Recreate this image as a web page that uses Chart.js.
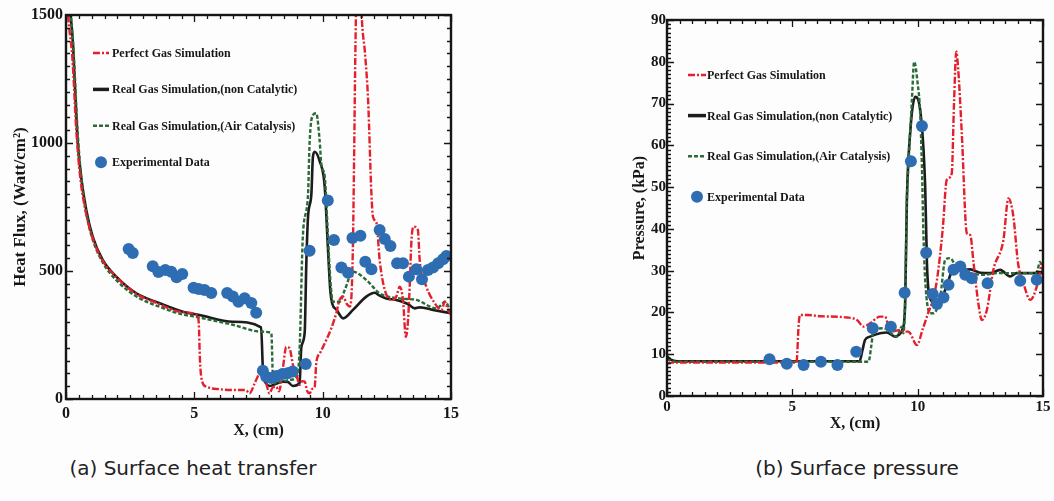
<!DOCTYPE html>
<html>
<head>
<meta charset="utf-8">
<script src="https://cdn.jsdelivr.net/npm/chart.js@4.4.1/dist/chart.umd.min.js"></script>
<style>
  html, body { margin: 0; padding: 0; background: #fdfdfe; }
  body { width: 1054px; height: 501px; position: relative; overflow: hidden; }
  canvas { position: absolute; top: 0; }
  #heatChart { left: 0; }
  #pressChart { left: 620px; }
  .caption {
    position: absolute; top: 458px; line-height: 20px;
    font-family: "DejaVu Sans", sans-serif; font-size: 20px; color: #222;
    text-align: center; white-space: nowrap;
  }
</style>
</head>
<body>
<canvas id="heatChart" width="470" height="445"></canvas>
<canvas id="pressChart" width="434" height="445"></canvas>
<div class="caption" style="left:43px;width:300px;">(a) Surface heat transfer</div>
<div class="caption" style="left:707px;width:300px;">(b) Surface pressure</div>

<script>
// ---- 1. DATA: surface heat flux (W/cm^2) vs X (cm)
const heatPerfectX = [0.03, 0.1, 0.25, 0.4, 0.55, 0.75, 1.0, 1.4, 1.95, 2.7, 3.6, 4.5, 5.1, 5.17, 5.22, 5.3, 5.47, 6.0, 6.5, 7.0,
  7.15, 7.35, 7.48, 7.6, 7.8, 7.93, 8.05, 8.19, 8.3, 8.45, 8.58, 8.71, 8.85, 8.97, 9.1, 9.2, 9.3, 9.4, 9.49, 9.6,
  9.69, 9.75, 9.9, 10.14, 10.35, 10.53, 10.66, 10.79, 10.95, 11.05, 11.12, 11.18, 11.22, 11.28, 11.4, 11.52, 11.65, 11.77, 11.9, 11.96,
  12.1, 12.22, 12.42, 12.68, 12.87, 13.0, 13.13, 13.24, 13.32, 13.39, 13.46, 13.55, 13.71, 13.78, 14.04, 14.37, 14.63, 14.76, 14.88, 15.0];
const heatPerfectY = [1600, 1480, 1330, 1050, 870, 740, 640, 545, 478, 413, 372, 340, 330, 300, 150, 70, 48, 38, 35, 35,
  22, 61, 90, 110, 60, 22, 45, 48, 30, 120, 204, 198, 130, 100, 55, 70, 68, 30, 22, 40,
  48, 139, 180, 230, 280, 335, 387, 400, 370, 361, 400, 608, 900, 1400, 1900, 1500, 1350, 1168, 800, 712,
  686, 543, 426, 387, 400, 439, 387, 243, 300, 439, 621, 673, 660, 543, 439, 374, 348, 380, 348, 330];

const heatNonCatX = [0.12, 0.27, 0.33, 0.46, 0.59, 0.79, 1.04, 1.43, 1.96, 2.74, 3.65, 4.55, 5.2, 6.5, 7.6, 7.68,
  7.8, 7.93, 8.2, 8.45, 8.65, 8.84, 9.1, 9.17, 9.3, 9.36, 9.43, 9.56, 9.62, 9.69, 9.88, 10.08,
  10.2, 10.3, 10.38, 10.53, 10.8, 11.18, 11.7, 12.03, 12.2, 12.48, 12.87, 13.3, 13.59, 13.78, 14.3, 15.0];
const heatNonCatY = [1560, 1389, 1259, 999, 868, 738, 634, 543, 478, 413, 374, 341, 328, 302, 280, 100,
  61, 51, 60, 68, 66, 51, 62, 204, 260, 517, 712, 800, 946, 966, 930, 830,
  600, 420, 370, 350, 315, 348, 400, 415, 405, 393, 387, 372, 354, 358, 348, 335];

const heatAirCatX = [0.14, 0.3, 0.45, 0.6, 0.8, 1.05, 1.45, 2.0, 2.75, 3.65, 4.55, 5.0, 6.5, 7.6, 8.0, 8.06,
  8.12, 8.5, 8.75, 9.0, 9.1, 9.23, 9.43, 9.49, 9.62, 9.75, 9.88, 9.95, 10.08, 10.14, 10.2, 10.3,
  10.4, 10.66, 10.86, 11.18, 11.7, 12.22, 13.0, 13.65, 14.43, 14.6, 14.76, 15.0];
const heatAirCatY = [1560, 1350, 1050, 860, 720, 620, 530, 460, 400, 360, 330, 322, 290, 263, 258, 87,
  62, 70, 75, 90, 190, 640, 800, 1000, 1109, 1116, 1012, 915, 870, 777, 647, 465,
  380, 380, 426, 497, 465, 413, 393, 387, 354, 365, 380, 341];

const heatExpX = [2.44, 2.6, 3.38, 3.6, 3.87, 4.1, 4.31, 4.53, 4.97, 5.17, 5.4, 5.66, 6.28, 6.5, 6.72, 6.96,
  7.22, 7.41, 7.67, 7.8, 8.0, 8.2, 8.43, 8.63, 8.83, 9.34, 9.49, 10.2, 10.44, 10.73, 10.99, 11.16,
  11.47, 11.66, 11.9, 12.22, 12.42, 12.64, 12.9, 13.13, 13.36, 13.65, 13.87, 14.1, 14.3, 14.5, 14.69, 14.82];
const heatExpY = [586, 570, 519, 496, 504, 497, 476, 488, 435, 430, 426, 414, 414, 400, 380, 394,
  375, 337, 110, 87, 82, 90, 98, 101, 107, 137, 579, 775, 621, 514, 493, 629,
  638, 536, 507, 660, 625, 598, 530, 530, 478, 507, 468, 504, 514, 530, 546, 559];

// ---- 2. DATA: surface pressure (kPa) vs X (cm)
const pressPerfectX = [0, 0.2, 5.15, 5.18, 5.25, 5.31, 5.58, 6.1, 7.18, 7.58, 7.84, 8.1, 8.5, 8.7, 8.84, 9.0,
  9.3, 9.43, 9.63, 9.7, 9.97, 10.2, 10.37, 10.6, 10.77, 11.0, 11.16, 11.36, 11.45, 11.54, 11.62, 11.76,
  11.96, 12.1, 12.23, 12.42, 12.56, 12.76, 13.02, 13.42, 13.62, 13.82, 14.0, 14.22, 14.49, 14.75, 14.95];
const pressPerfectY = [7.8, 8.0, 8.0, 8.6, 17, 19.4, 19.4, 19.1, 18.8, 18.2, 16.6, 17.4, 19, 19, 16.6, 15.5,
  15.8, 15.4, 15.4, 15, 12.2, 16, 19, 23, 27.8, 40, 51.7, 53.3, 70, 82.4, 78, 62.9,
  39, 38.5, 31.8, 22.2, 18.2, 20.6, 30.2, 37.3, 47.3, 42.9, 32, 27, 23, 26.2, 31.8];

const pressNonCatX = [0, 0.15, 0.4, 7.68, 7.8, 7.9, 8.1, 8.5, 8.77, 9.1, 9.24, 9.4, 9.5, 9.57, 9.7, 9.9,
  10.1, 10.3, 10.37, 10.43, 10.57, 10.77, 11.1, 11.43, 11.83, 12.1, 12.5, 12.9, 13.29, 13.69, 13.95, 15];
const pressNonCatY = [9.5, 8.7, 8.3, 8.3, 11, 13.4, 14.2, 15, 15.2, 14.2, 14.6, 16, 22, 47, 62.9, 71.6,
  68.5, 50, 31.8, 25.4, 22.6, 21.4, 25.4, 30.2, 30.2, 30.3, 29.5, 29.4, 30.2, 28.6, 29.4, 29.4];

const pressAirCatX = [0, 0.15, 0.4, 8.04, 8.15, 8.24, 8.64, 9.17, 9.37, 9.43, 9.5, 9.57, 9.63, 9.77, 9.86, 10.0,
  10.1, 10.17, 10.23, 10.3, 10.5, 10.63, 10.9, 11.1, 11.3, 11.56, 12.1, 12.62, 13.16, 14.49, 14.75, 14.88, 15];
const pressAirCatY = [9.0, 8.4, 8.2, 8.2, 12, 15.8, 16.2, 14.2, 16.6, 15, 23, 47, 54.9, 70.8, 80, 74.8,
  67.7, 54.9, 38.9, 27.8, 19.8, 19.8, 23.8, 32.6, 33, 30.6, 29.4, 29, 29.4, 29.4, 29.6, 32.1, 29.8];

const pressExpX = [4.09, 4.78, 5.45, 6.14, 6.8, 7.55, 8.21, 8.93, 9.48, 9.73, 10.17, 10.34, 10.6, 10.77, 11.03, 11.23,
  11.43, 11.7, 11.9, 12.16, 12.79, 14.09, 14.75];
const pressExpY = [8.8, 7.7, 7.4, 8.2, 7.4, 10.6, 16.2, 16.6, 24.7, 56.2, 64.6, 34.3, 24.4, 22, 23.6, 26.6,
  30.2, 31, 29, 28.2, 27, 27.6, 27.8];

// tick labels
const xTicks = [0, 5, 10, 15];
const heatYTicks = [0, 500, 1000, 1500];
const pressYTicks = [0, 10, 20, 30, 40, 50, 60, 70, 80, 90];

const seriesNames = [
  'Perfect Gas Simulation',
  'Real Gas Simulation,(non Catalytic)',
  'Real Gas Simulation,(Air Catalysis)',
  'Experimental Data'
];

// ---- 3. HELPERS
const toPoints = (xs, ys) => xs.map((x, i) => ({ x: x, y: ys[i] }));
const serif = '"Liberation Serif", "Times New Roman", serif';
const inkColor = '#161616';

function buildDatasets(perfX, perfY, ncX, ncY, acX, acY, expX, expY) {
  const lineBase = { showLine: true, pointRadius: 0, cubicInterpolationMode: 'monotone', fill: false };
  return [
    Object.assign({}, lineBase, {
      label: seriesNames[0], data: toPoints(perfX, perfY),
      borderColor: '#e3202c', borderWidth: 2.4, borderDash: [7, 2, 2, 2], order: 1
    }),
    Object.assign({}, lineBase, {
      label: seriesNames[1], data: toPoints(ncX, ncY),
      borderColor: '#1c1c1c', borderWidth: 2.6, order: 3
    }),
    Object.assign({}, lineBase, {
      label: seriesNames[2], data: toPoints(acX, acY),
      borderColor: '#2c6a37', borderWidth: 2.4, borderDash: [4, 2], order: 2
    }),
    {
      label: seriesNames[3], data: toPoints(expX, expY), showLine: false,
      pointRadius: 6, pointBackgroundColor: '#2f6db3', pointBorderWidth: 0, order: 0
    }
  ];
}

// box frame with inward major/minor ticks on all four sides
const framePlugin = {
  id: 'frame',
  afterDatasetsDraw(chart, args, opts) {
    const { ctx, chartArea: a, scales: { x, y } } = chart;
    const isMajor = (v, step) => Math.abs(v / step - Math.round(v / step)) < 1e-6;
    ctx.save();
    ctx.strokeStyle = inkColor;
    ctx.lineWidth = 1.3;
    ctx.beginPath();
    for (let v = x.min; v <= x.max + 1e-9; v += opts.xMinor) {
      const px = Math.round(x.getPixelForValue(v)) + 0.5;
      const len = isMajor(v, opts.xMajor) ? 7 : 4;
      ctx.moveTo(px, a.bottom); ctx.lineTo(px, a.bottom - len);
      ctx.moveTo(px, a.top); ctx.lineTo(px, a.top + len);
    }
    for (let v = y.min; v <= y.max + 1e-9; v += opts.yMinorLeft) {
      const py = Math.round(y.getPixelForValue(v)) + 0.5;
      ctx.moveTo(a.left, py); ctx.lineTo(a.left + (isMajor(v, opts.yMajor) ? 7 : 4), py);
    }
    for (let v = y.min; v <= y.max + 1e-9; v += opts.yMinorRight) {
      const py = Math.round(y.getPixelForValue(v)) + 0.5;
      ctx.moveTo(a.right, py); ctx.lineTo(a.right - (isMajor(v, opts.yMajor) ? 7 : 4), py);
    }
    ctx.stroke();
    ctx.lineWidth = 2.4;
    ctx.strokeRect(a.left, a.top, a.right - a.left, a.bottom - a.top);
    ctx.restore();
  }
};

// legend drawn inside the plot box, top-left
const insetLegend = {
  id: 'insetLegend',
  afterDraw(chart, args, opts) {
    const { ctx, chartArea: a } = chart;
    ctx.save();
    ctx.font = 'bold 12px ' + serif;
    ctx.textBaseline = 'middle';
    chart.data.datasets.forEach((ds, i) => {
      const y = a.top + opts.top + i * opts.gap;
      const x0 = a.left + opts.left;
      if (ds.showLine) {
        ctx.strokeStyle = ds.borderColor;
        ctx.lineWidth = i === 1 ? 3.5 : ds.borderWidth;
        ctx.setLineDash(ds.borderDash || []);
        ctx.beginPath();
        ctx.moveTo(x0, y); ctx.lineTo(x0 + opts.sample, y);
        ctx.stroke();
        ctx.setLineDash([]);
      } else {
        ctx.fillStyle = ds.pointBackgroundColor;
        ctx.beginPath();
        ctx.arc(x0 + opts.sample / 2, y, ds.pointRadius, 0, Math.PI * 2);
        ctx.fill();
      }
      ctx.fillStyle = inkColor;
      ctx.fillText(ds.label, a.left + opts.textX, y + 1);
    });
    ctx.restore();
  }
};

function buildScales(cfg) {
  return {
    x: {
      type: 'linear', min: 0, max: 15,
      afterBuildTicks(s) { s.ticks = xTicks.map(v => ({ value: v })); },
      ticks: { padding: cfg.xTickPad, color: inkColor, maxRotation: 0, autoSkip: false,
               callback: v => String(v),
               font: { family: serif, size: cfg.tickSize, weight: 'bold' } },
      grid: { display: false, drawTicks: false },
      border: { display: false },
      title: { display: true, text: 'X, (cm)', color: inkColor,
               font: { family: serif, size: 16, weight: 'bold' },
               padding: { top: 0, bottom: cfg.xTitlePad } },
      afterFit(s) { s.height = 44; s.paddingLeft = 0; s.paddingRight = 0; }
    },
    y: {
      type: 'linear', min: 0, max: cfg.yMax,
      afterBuildTicks(s) { s.ticks = cfg.yTicks.map(v => ({ value: v })); },
      ticks: { padding: cfg.yTickPad, color: inkColor, autoSkip: false,
               callback: v => String(v),
               font: { family: serif, size: cfg.tickSize, weight: 'bold' } },
      grid: { display: false, drawTicks: false },
      border: { display: false },
      title: { display: true, text: cfg.yTitle, color: inkColor,
               font: { family: serif, size: cfg.yTitleSize, weight: 'bold' },
               padding: { top: cfg.yTitlePad, bottom: 0 } },
      afterFit(s) { s.width = cfg.yWidth; s.paddingTop = 0; s.paddingBottom = 0; }
    }
  };
}

function makeChart(canvasId, datasets, cfg) {
  const ctx = document.getElementById(canvasId).getContext('2d');
  return new Chart(ctx, {
    type: 'scatter',
    data: { datasets: datasets },
    options: {
      responsive: false,
      animation: false,
      layout: { padding: cfg.padding },
      plugins: {
        legend: { display: false },
        tooltip: { enabled: false },
        frame: cfg.frame,
        insetLegend: cfg.legend
      },
      scales: buildScales(cfg)
    },
    plugins: [framePlugin, insetLegend]
  });
}

// ---- 4. CHARTS
makeChart('heatChart',
  buildDatasets(heatPerfectX, heatPerfectY, heatNonCatX, heatNonCatY, heatAirCatX, heatAirCatY, heatExpX, heatExpY),
  {
    padding: { left: 0, top: 15, right: 19, bottom: 2 },
    yMax: 1500, yTicks: heatYTicks, yTitle: 'Heat Flux, (Watt/cm²)', yTitleSize: 17,
    yWidth: 66, yTitlePad: 10, yTickPad: 3, xTickPad: 5, xTitlePad: 3, tickSize: 16,
    frame: { xMinor: 0.5, xMajor: 5, yMinorLeft: 50, yMinorRight: 50, yMajor: 500 },
    legend: { left: 27, sample: 16, textX: 46, top: 38, gap: 36.4 }
  });

makeChart('pressChart',
  buildDatasets(pressPerfectX, pressPerfectY, pressNonCatX, pressNonCatY, pressAirCatX, pressAirCatY, pressExpX, pressExpY),
  {
    padding: { left: 0, top: 20, right: 11, bottom: 5 },
    yMax: 90, yTicks: pressYTicks, yTitle: 'Pressure, (kPa)', yTitleSize: 16,
    yWidth: 47, yTitlePad: 10, yTickPad: 1, xTickPad: 2, xTitlePad: 7, tickSize: 15,
    frame: { xMinor: 0.5, xMajor: 5, yMinorLeft: 1, yMinorRight: 5, yMajor: 10 },
    legend: { left: 21, sample: 18, textX: 40, top: 55, gap: 40.6 }
  });
</script>
</body>
</html>
